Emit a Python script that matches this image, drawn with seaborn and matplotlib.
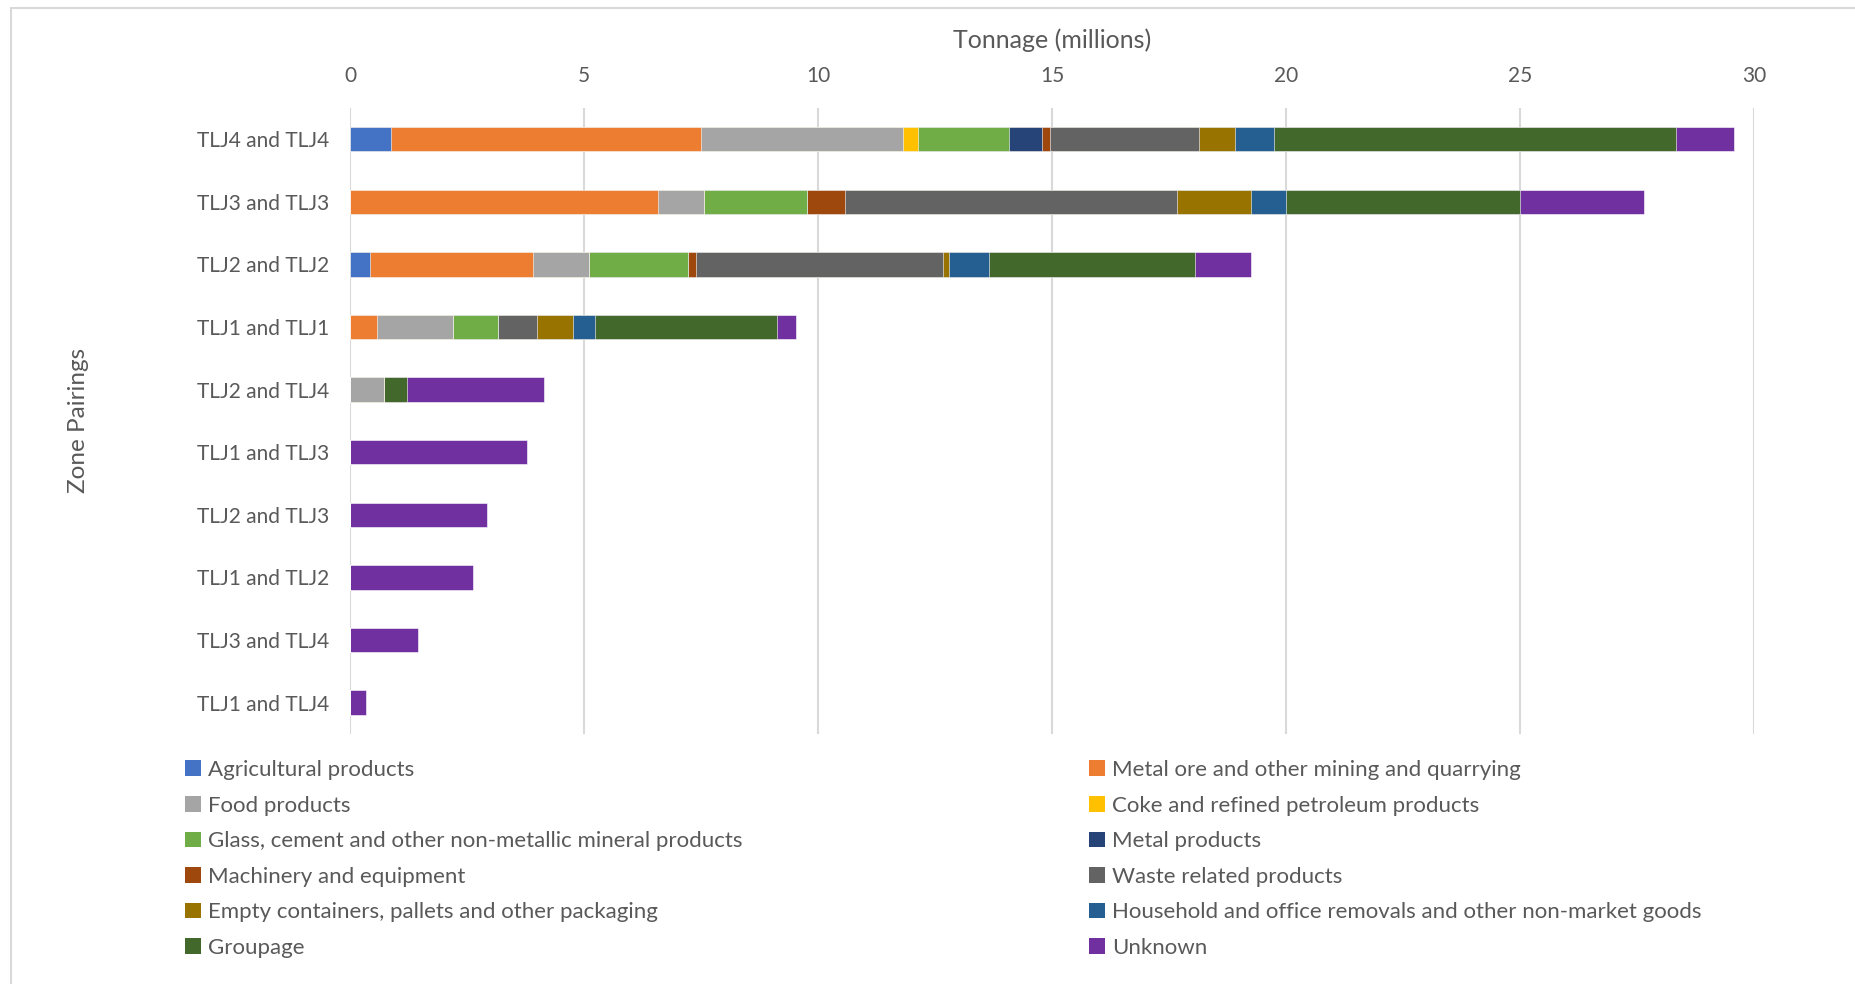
import pandas as pd
import seaborn as sns
import matplotlib.pyplot as plt
from matplotlib.patches import Patch
from matplotlib.lines import Line2D

zones = ["TLJ4 and TLJ4", "TLJ3 and TLJ3", "TLJ2 and TLJ2", "TLJ1 and TLJ1",
         "TLJ2 and TLJ4", "TLJ1 and TLJ3", "TLJ2 and TLJ3", "TLJ1 and TLJ2",
         "TLJ3 and TLJ4", "TLJ1 and TLJ4"]

# tonnage in millions, one value per zone pairing
agricultural = [0.87, 0, 0.43, 0, 0, 0, 0, 0, 0, 0]
metal_ore = [6.63, 6.57, 3.48, 0.58, 0, 0, 0, 0, 0, 0]
food = [4.31, 0.99, 1.20, 1.61, 0.72, 0, 0, 0, 0, 0]
coke = [0.32, 0, 0, 0, 0, 0, 0, 0, 0, 0]
glass = [1.94, 2.20, 2.12, 0.98, 0, 0, 0, 0, 0, 0]
metal_products = [0.72, 0, 0, 0, 0, 0, 0, 0, 0, 0]
machinery = [0.17, 0.82, 0.17, 0, 0, 0, 0, 0, 0, 0]
waste = [3.17, 7.08, 5.28, 0.83, 0, 0, 0, 0, 0, 0]
empty_containers = [0.77, 1.58, 0.11, 0.77, 0, 0, 0, 0, 0, 0]
household = [0.85, 0.75, 0.87, 0.47, 0, 0, 0, 0, 0, 0]
groupage = [8.58, 5.00, 4.40, 3.89, 0.50, 0, 0, 0, 0, 0]
unknown = [1.23, 2.66, 1.19, 0.40, 2.92, 3.79, 2.93, 2.63, 1.46, 0.35]

categories = ["Agricultural products", "Metal ore and other mining and quarrying",
              "Food products", "Coke and refined petroleum products",
              "Glass, cement and other non-metallic mineral products", "Metal products",
              "Machinery and equipment", "Waste related products",
              "Empty containers, pallets and other packaging",
              "Household and office removals and other non-market goods",
              "Groupage", "Unknown"]
colors = ["#4472C4", "#ED7D31", "#A5A5A5", "#FFC000", "#70AD47", "#264478",
          "#9E480E", "#636363", "#997300", "#255E91", "#43682B", "#7030A0"]

df = pd.DataFrame(dict(zip(categories, [agricultural, metal_ore, food, coke, glass,
                                        metal_products, machinery, waste,
                                        empty_containers, household, groupage, unknown])),
                  index=zones)
cum = df.cumsum(axis=1)

sns.set_theme(style="white")
plt.rcParams["font.family"] = ["Lato", "DejaVu Sans"]
text_col = "#595959"

fig = plt.figure(figsize=(18.56, 9.84), dpi=100)
ax = fig.add_axes([0.1886, 0.2541, 0.7565, 0.6362])

# stacked bars drawn as overlapping cumulative bars, longest first
for cat, col in reversed(list(zip(categories, colors))):
    sns.barplot(x=cum[cat].values, y=zones, order=zones, orient="h", color=col,
                saturation=1, width=0.39, edgecolor="white", linewidth=0.4, ax=ax)

ax.set_xlim(0, 30)
ax.set_ylim(9.5, -0.5)
ax.set_xticks(range(0, 31, 5))
ax.xaxis.tick_top()
ax.xaxis.set_label_position("top")
ax.set_xlabel("Tonnage (millions)", fontsize=18, color=text_col, labelpad=13)
ax.set_ylabel("")
ax.tick_params(axis="x", length=0, pad=16, labelsize=15, labelcolor=text_col)
ax.tick_params(axis="y", length=0, pad=15, labelsize=15, labelcolor=text_col)
ax.grid(axis="x", color="#D9D9D9", linewidth=1.5)
ax.set_axisbelow(True)
for s in ax.spines.values():
    s.set_visible(False)

fig.text(79 / 1856, 1 - 420 / 984, "Zone Pairings", rotation=90, ha="center",
         va="center", fontsize=17.5, color=text_col)

handles = [Patch(facecolor=c, edgecolor="none") for c in colors]
for start, x in [(0, 185 / 1856), (1, 1089 / 1856)]:
    leg = fig.legend(handles[start::2], categories[start::2], loc="upper left",
                     bbox_to_anchor=(x, 1 - 760 / 984), frameon=False, ncol=1,
                     fontsize=16, handlelength=0.7, handleheight=0.7,
                     handletextpad=0.35, labelspacing=0.7, borderpad=0,
                     borderaxespad=0)
    for t in leg.get_texts():
        t.set_color(text_col)

# chart area border
fig.add_artist(Line2D([11 / 1856, 11 / 1856], [0, 1 - 8 / 984], color="#D9D9D9", lw=1.5))
fig.add_artist(Line2D([11 / 1856, 1], [1 - 8 / 984, 1 - 8 / 984], color="#D9D9D9", lw=1.5))

fig.savefig("out.png", dpi=100)
